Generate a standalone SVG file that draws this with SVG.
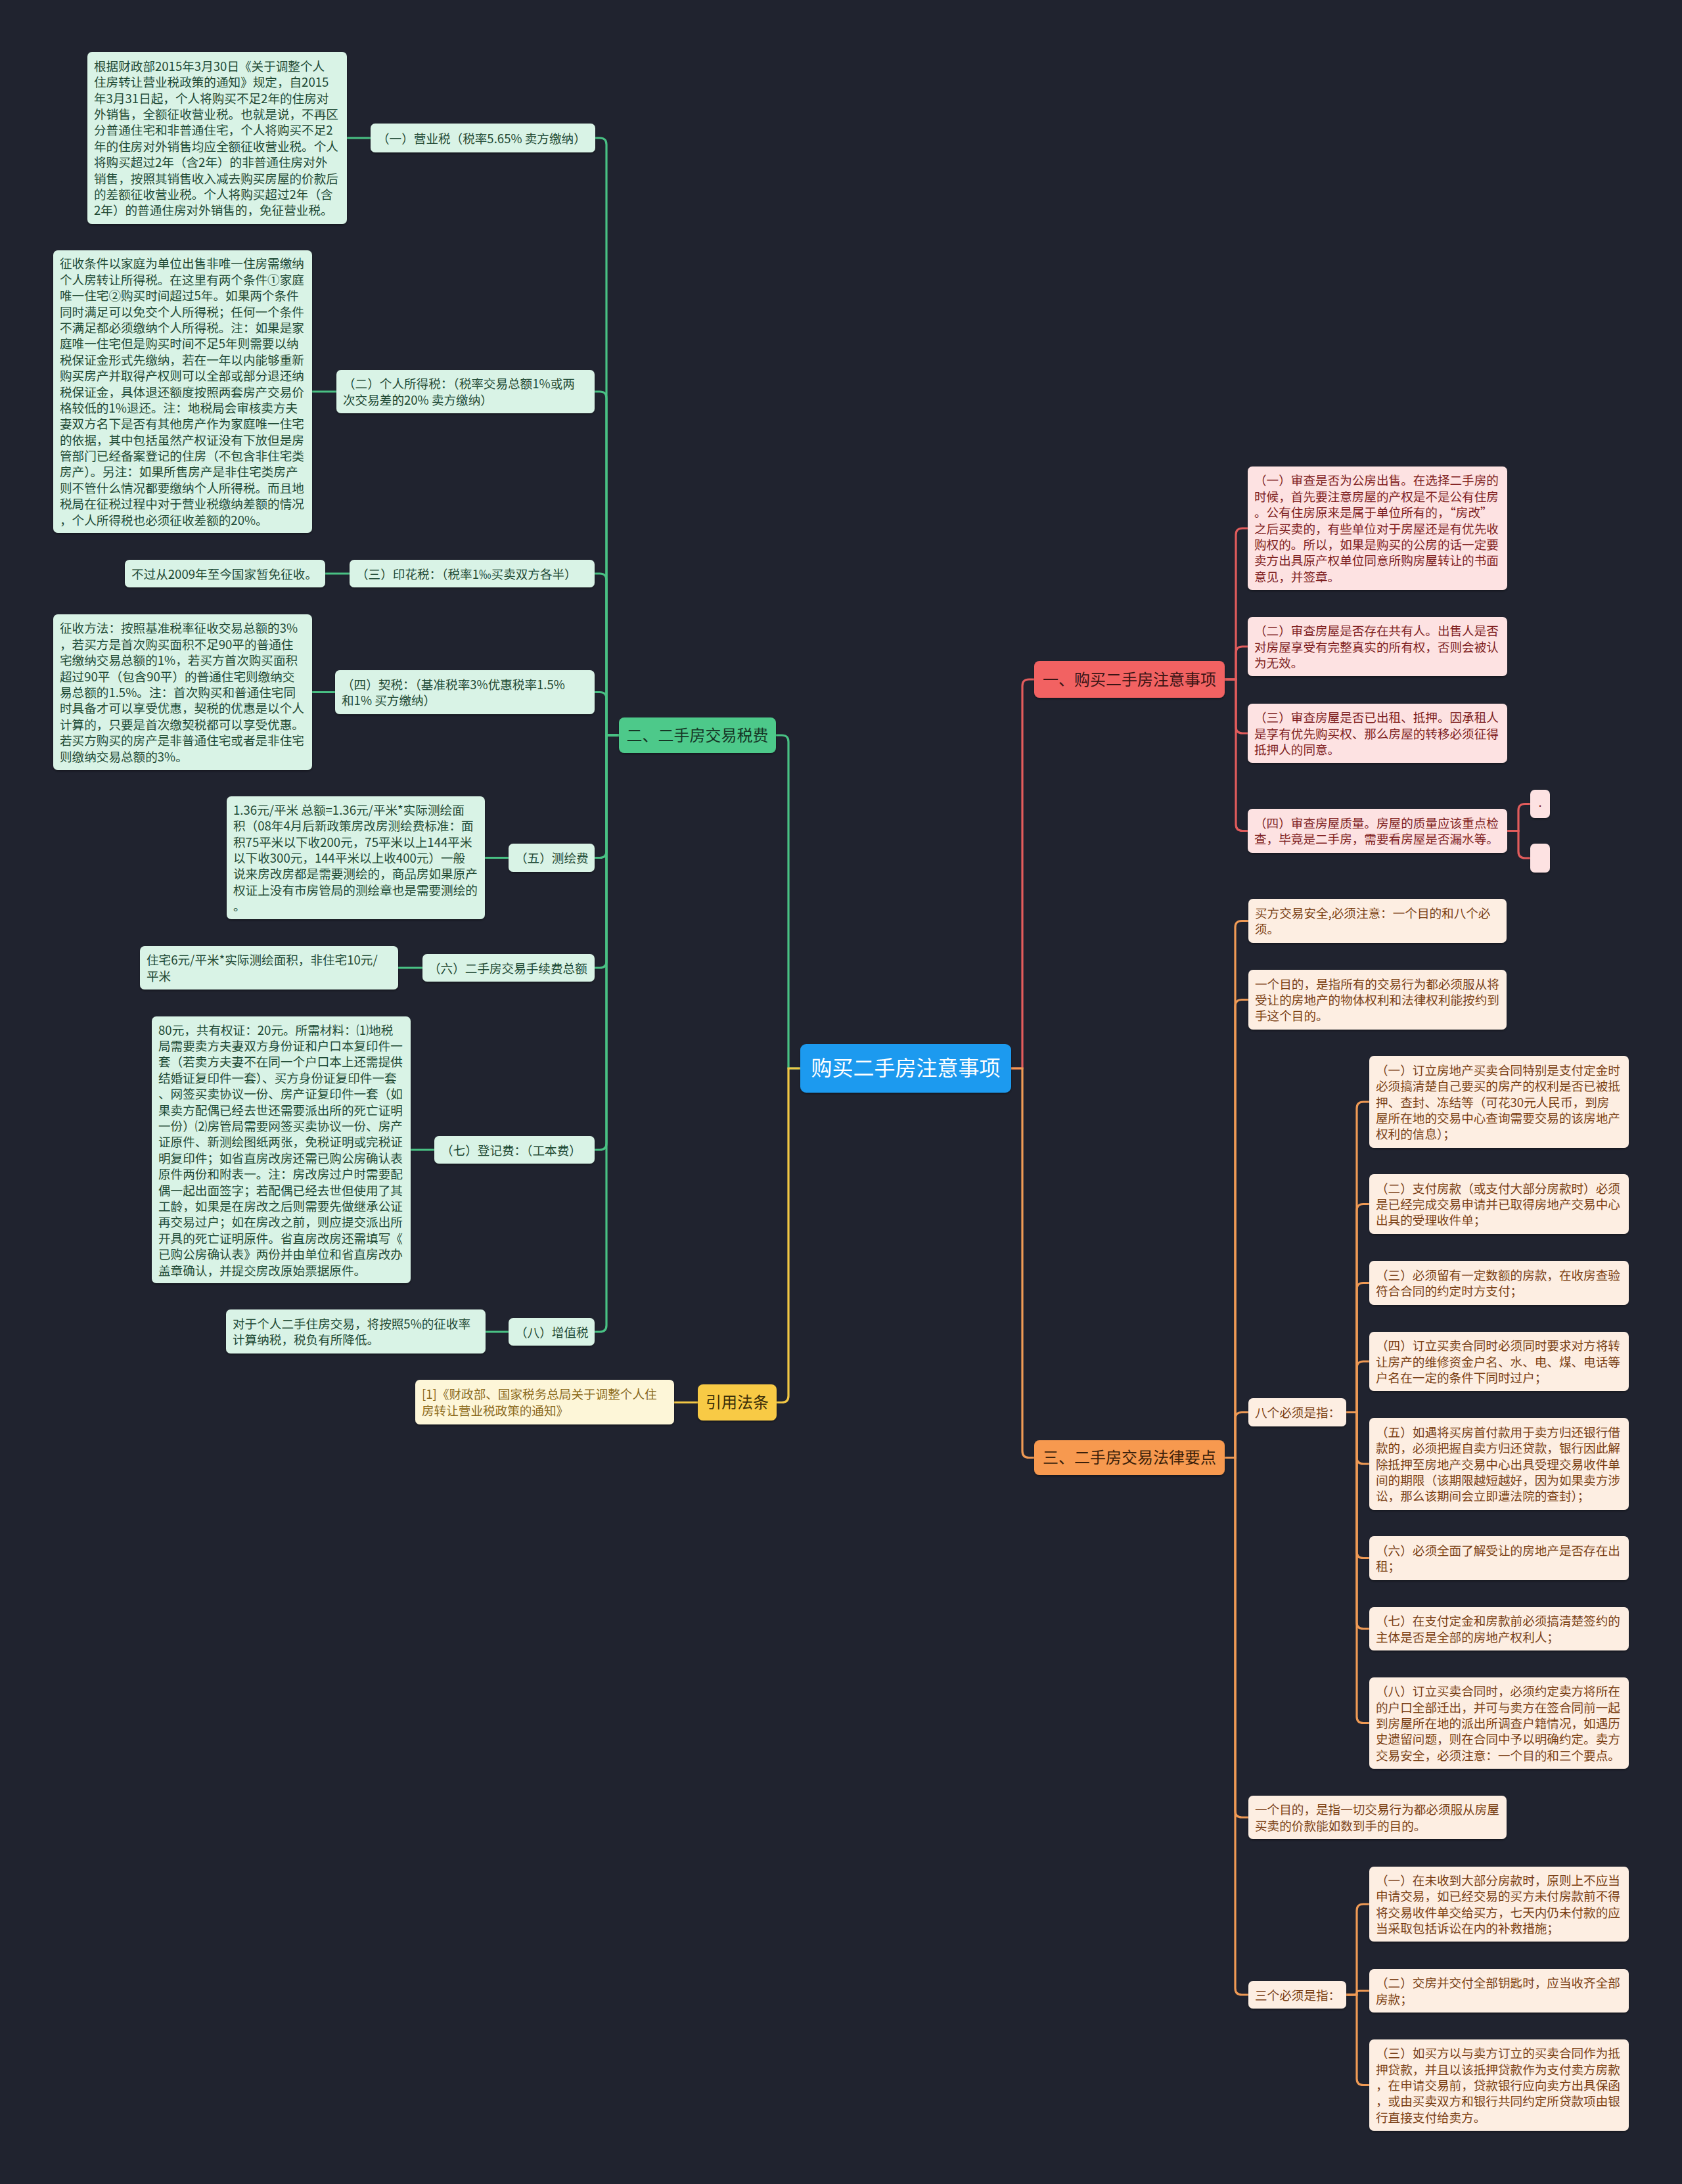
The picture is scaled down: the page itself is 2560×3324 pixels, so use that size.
<svg xmlns="http://www.w3.org/2000/svg" width="2560" height="3324" viewBox="0 0 2560 3324">
<defs>
<filter id="sh" x="-5%" y="-5%" width="110%" height="115%"><feDropShadow dx="0" dy="2" stdDeviation="1.5" flood-color="#000" flood-opacity="0.35"/></filter>
<style>
text{font-family:"Noto Sans CJK SC","Noto Sans",sans-serif;font-size:18.6px}
.gl{fill:#d9f3e6;filter:url(#sh)}
.gt{fill:#1f4a35}
.rl{fill:#fde2e2;filter:url(#sh)}
.rt{fill:#7f1f1f}
.ol{fill:#fdeee2;filter:url(#sh)}
.ot{fill:#7a3f14}
.yl{fill:#fdf6d8;filter:url(#sh)}
.yt{fill:#8b6a1b}
.main{font-size:24px;text-anchor:middle}
.c{fill:none;stroke-width:3.2;stroke-linecap:round}
.cg{stroke:#49c184}.cr{stroke:#e25c5c}.co{stroke:#ef9a55}.cy{stroke:#f2c744}
</style>
</defs>
<rect x="0" y="0" width="2560" height="3324" fill="#20232f"/>

<g id="connectors">
<!-- center to main -->
<path class="c cg" d="M1218,1626 H1200 V1129 Q1200,1119 1190,1119 H1181"/>
<path class="c cy" d="M1218,1626 H1200 V2124.5 Q1200,2134.5 1190,2134.5 H1182"/>
<path class="c cr" d="M1539,1626 H1556 V1044 Q1556,1034 1566,1034 H1574"/>
<path class="c co" d="M1539,1626 H1556 V2208.5 Q1556,2218.5 1566,2218.5 H1574"/>
<!-- green main to labels -->
<path class="c cg" d="M942,1119 H923 V220 Q923,210 913,210 H906"/>
<path class="c cg" d="M942,1119 H923 V606 Q923,596 913,596 H905"/>
<path class="c cg" d="M942,1119 H923 V883 Q923,873 913,873 H905"/>
<path class="c cg" d="M942,1119 H923 V1063.5 Q923,1053.5 913,1053.5 H905"/>
<path class="c cg" d="M942,1119 H923 V1295.5 Q923,1305.5 913,1305.5 H905"/>
<path class="c cg" d="M942,1119 H923 V1463 Q923,1473 913,1473 H905"/>
<path class="c cg" d="M942,1119 H923 V1740 Q923,1750 913,1750 H905"/>
<path class="c cg" d="M942,1119 H923 V2017 Q923,2027 913,2027 H905"/>
<!-- green labels to leaves -->
<path class="c cg" d="M528,210 H564"/>
<path class="c cg" d="M475,596 H512"/>
<path class="c cg" d="M495,873 H532"/>
<path class="c cg" d="M475,1053.5 H510"/>
<path class="c cg" d="M738,1305.5 H774"/>
<path class="c cg" d="M606,1473 H643"/>
<path class="c cg" d="M625,1750 H661"/>
<path class="c cg" d="M739,2027 H774"/>
<!-- yellow -->
<path class="c cy" d="M1062,2134.5 H1026"/>
<!-- red -->
<path class="c cr" d="M1864,1034 H1881 V814 Q1881,804 1891,804 H1899"/>
<path class="c cr" d="M1864,1034 H1881 V994 Q1881,984 1891,984 H1899"/>
<path class="c cr" d="M1864,1034 H1881 V1106 Q1881,1116 1891,1116 H1899"/>
<path class="c cr" d="M1864,1034 H1881 V1254.5 Q1881,1264.5 1891,1264.5 H1899"/>
<path class="c cr" d="M2294,1264.5 H2311 V1233.5 Q2311,1223.5 2321,1223.5 H2329"/>
<path class="c cr" d="M2294,1264.5 H2311 V1296 Q2311,1306 2321,1306 H2329"/>
<!-- orange -->
<path class="c co" d="M1864,2218.5 H1880 V1411.5 Q1880,1401.5 1890,1401.5 H1900"/>
<path class="c co" d="M1864,2218.5 H1880 V1531.5 Q1880,1521.5 1890,1521.5 H1900"/>
<path class="c co" d="M1864,2218.5 H1880 V2159.5 Q1880,2149.5 1890,2149.5 H1900"/>
<path class="c co" d="M1864,2218.5 H1880 V2756 Q1880,2766 1890,2766 H1900"/>
<path class="c co" d="M1864,2218.5 H1880 V3026 Q1880,3036 1890,3036 H1900"/>
<path class="c co" d="M2049,2149.5 H2065 V1687 Q2065,1677 2075,1677 H2084"/>
<path class="c co" d="M2049,2149.5 H2065 V1842.5 Q2065,1832.5 2075,1832.5 H2084"/>
<path class="c co" d="M2049,2149.5 H2065 V1962.5 Q2065,1952.5 2075,1952.5 H2084"/>
<path class="c co" d="M2049,2149.5 H2065 V2082 Q2065,2072 2075,2072 H2084"/>
<path class="c co" d="M2049,2149.5 H2065 V2218 Q2065,2228 2075,2228 H2084"/>
<path class="c co" d="M2049,2149.5 H2065 V2361.5 Q2065,2371.5 2075,2371.5 H2084"/>
<path class="c co" d="M2049,2149.5 H2065 V2469 Q2065,2479 2075,2479 H2084"/>
<path class="c co" d="M2049,2149.5 H2065 V2612.5 Q2065,2622.5 2075,2622.5 H2084"/>
<path class="c co" d="M2049,3036 H2065 V2908 Q2065,2898 2075,2898 H2084"/>
<path class="c co" d="M2049,3036 H2060 Q2065,3036 2065,3033 Q2065,3030 2070,3030 H2084"/>
<path class="c co" d="M2049,3036 H2065 V3163.5 Q2065,3173.5 2075,3173.5 H2084"/>
</g>

<g id="n-center">
<rect x="1218" y="1589" width="321" height="74" rx="9" fill="#1b9aef" filter="url(#sh)"/>
<text x="1378.5" y="1637" style="font-size:32px;text-anchor:middle;fill:#ffffff">购买二手房注意事项</text>
</g>

<g id="n-tax">
<rect x="942" y="1092" width="239" height="54" rx="8" fill="#4dc98a" filter="url(#sh)"/>
<text class="main" x="1061.5" y="1127.5" fill="#163726">二、二手房交易税费</text>
</g>

<g id="n-tax-1">
<rect class="gl" x="564" y="188" width="342" height="44" rx="7"/>
<text class="gt" x="574" y="217.5">（一）营业税（税率5.65% 卖方缴纳）</text>
</g>
<g id="n-tax-1-leaf">
<rect class="gl" x="133" y="79" width="395" height="262" rx="7"/>
<text class="gt" x="143" y="107.7">根据财政部2015年3月30日《关于调整个人<tspan x="143" dy="24.4">住房转让营业税政策的通知》规定，自2015</tspan><tspan x="143" dy="24.4">年3月31日起，个人将购买不足2年的住房对</tspan><tspan x="143" dy="24.4">外销售，全额征收营业税。也就是说，不再区</tspan><tspan x="143" dy="24.4">分普通住宅和非普通住宅，个人将购买不足2</tspan><tspan x="143" dy="24.4">年的住房对外销售均应全额征收营业税。个人</tspan><tspan x="143" dy="24.4">将购买超过2年（含2年）的非普通住房对外</tspan><tspan x="143" dy="24.4">销售，按照其销售收入减去购买房屋的价款后</tspan><tspan x="143" dy="24.4">的差额征收营业税。个人将购买超过2年（含</tspan><tspan x="143" dy="24.4">2年）的普通住房对外销售的，免征营业税。</tspan></text>
</g>

<g id="n-tax-2">
<rect class="gl" x="512" y="563" width="393" height="66" rx="7"/>
<text class="gt" x="522" y="591.3">（二）个人所得税：（税率交易总额1%或两<tspan x="522" dy="24.4">次交易差的20% 卖方缴纳）</tspan></text>
</g>
<g id="n-tax-2-leaf">
<rect class="gl" x="81" y="381" width="394" height="430" rx="7"/>
<text class="gt" x="91" y="408.3">征收条件以家庭为单位出售非唯一住房需缴纳<tspan x="91" dy="24.4">个人房转让所得税。在这里有两个条件①家庭</tspan><tspan x="91" dy="24.4">唯一住宅②购买时间超过5年。如果两个条件</tspan><tspan x="91" dy="24.4">同时满足可以免交个人所得税；任何一个条件</tspan><tspan x="91" dy="24.4">不满足都必须缴纳个人所得税。注：如果是家</tspan><tspan x="91" dy="24.4">庭唯一住宅但是购买时间不足5年则需要以纳</tspan><tspan x="91" dy="24.4">税保证金形式先缴纳，若在一年以内能够重新</tspan><tspan x="91" dy="24.4">购买房产并取得产权则可以全部或部分退还纳</tspan><tspan x="91" dy="24.4">税保证金，具体退还额度按照两套房产交易价</tspan><tspan x="91" dy="24.4">格较低的1%退还。注：地税局会审核卖方夫</tspan><tspan x="91" dy="24.4">妻双方名下是否有其他房产作为家庭唯一住宅</tspan><tspan x="91" dy="24.4">的依据，其中包括虽然产权证没有下放但是房</tspan><tspan x="91" dy="24.4">管部门已经备案登记的住房（不包含非住宅类</tspan><tspan x="91" dy="24.4">房产）。另注：如果所售房产是非住宅类房产</tspan><tspan x="91" dy="24.4">则不管什么情况都要缴纳个人所得税。而且地</tspan><tspan x="91" dy="24.4">税局在征税过程中对于营业税缴纳差额的情况</tspan><tspan x="91" dy="24.4">，个人所得税也必须征收差额的20%。</tspan></text>
</g>

<g id="n-tax-3">
<rect class="gl" x="532" y="852" width="373" height="42" rx="7"/>
<text class="gt" x="542" y="880.5">（三）印花税：（税率1‰买卖双方各半）</text>
</g>
<g id="n-tax-3-leaf">
<rect class="gl" x="190" y="852" width="305" height="42" rx="7"/>
<text class="gt" x="200" y="880.5">不过从2009年至今国家暂免征收。</text>
</g>

<g id="n-tax-4">
<rect class="gl" x="510" y="1020" width="395" height="67" rx="7"/>
<text class="gt" x="520" y="1048.8">（四）契税：（基准税率3%优惠税率1.5%<tspan x="520" dy="24.4">和1% 买方缴纳）</tspan></text>
</g>
<g id="n-tax-4-leaf">
<rect class="gl" x="81" y="935" width="394" height="237" rx="7"/>
<text class="gt" x="91" y="963.4">征收方法：按照基准税率征收交易总额的3%<tspan x="91" dy="24.4">，若买方是首次购买面积不足90平的普通住</tspan><tspan x="91" dy="24.4">宅缴纳交易总额的1%，若买方首次购买面积</tspan><tspan x="91" dy="24.4">超过90平（包含90平）的普通住宅则缴纳交</tspan><tspan x="91" dy="24.4">易总额的1.5%。注：首次购买和普通住宅同</tspan><tspan x="91" dy="24.4">时具备才可以享受优惠，契税的优惠是以个人</tspan><tspan x="91" dy="24.4">计算的，只要是首次缴契税都可以享受优惠。</tspan><tspan x="91" dy="24.4">若买方购买的房产是非普通住宅或者是非住宅</tspan><tspan x="91" dy="24.4">则缴纳交易总额的3%。</tspan></text>
</g>

<g id="n-tax-5">
<rect class="gl" x="774" y="1284" width="131" height="43" rx="7"/>
<text class="gt" x="784" y="1313">（五）测绘费</text>
</g>
<g id="n-tax-5-leaf">
<rect class="gl" x="345" y="1212" width="393" height="187" rx="7"/>
<text class="gt" x="355" y="1239.8">1.36元/平米 总额=1.36元/平米*实际测绘面<tspan x="355" dy="24.4">积（08年4月后新政策房改房测绘费标准：面</tspan><tspan x="355" dy="24.4">积75平米以下收200元，75平米以上144平米</tspan><tspan x="355" dy="24.4">以下收300元，144平米以上收400元）一般</tspan><tspan x="355" dy="24.4">说来房改房都是需要测绘的，商品房如果原产</tspan><tspan x="355" dy="24.4">权证上没有市房管局的测绘章也是需要测绘的</tspan><tspan x="355" dy="24.4">。</tspan></text>
</g>

<g id="n-tax-6">
<rect class="gl" x="643" y="1452" width="262" height="42" rx="7"/>
<text class="gt" x="652" y="1480.5">（六）二手房交易手续费总额</text>
</g>
<g id="n-tax-6-leaf">
<rect class="gl" x="213" y="1440" width="393" height="66" rx="7"/>
<text class="gt" x="223" y="1468.3">住宅6元/平米*实际测绘面积，非住宅10元/<tspan x="223" dy="24.4">平米</tspan></text>
</g>

<g id="n-tax-7">
<rect class="gl" x="661" y="1729" width="244" height="42" rx="7"/>
<text class="gt" x="671" y="1757.5">（七）登记费：（工本费）</text>
</g>
<g id="n-tax-7-leaf">
<rect class="gl" x="231" y="1547" width="394" height="406" rx="7"/>
<text class="gt" x="241" y="1574.5">80元，共有权证：20元。所需材料：⑴地税<tspan x="241" dy="24.4">局需要卖方夫妻双方身份证和户口本复印件一</tspan><tspan x="241" dy="24.4">套（若卖方夫妻不在同一个户口本上还需提供</tspan><tspan x="241" dy="24.4">结婚证复印件一套）、买方身份证复印件一套</tspan><tspan x="241" dy="24.4">、网签买卖协议一份、房产证复印件一套（如</tspan><tspan x="241" dy="24.4">果卖方配偶已经去世还需要派出所的死亡证明</tspan><tspan x="241" dy="24.4">一份）⑵房管局需要网签买卖协议一份、房产</tspan><tspan x="241" dy="24.4">证原件、新测绘图纸两张，免税证明或完税证</tspan><tspan x="241" dy="24.4">明复印件；如省直房改房还需已购公房确认表</tspan><tspan x="241" dy="24.4">原件两份和附表一。注：房改房过户时需要配</tspan><tspan x="241" dy="24.4">偶一起出面签字；若配偶已经去世但使用了其</tspan><tspan x="241" dy="24.4">工龄，如果是在房改之后则需要先做继承公证</tspan><tspan x="241" dy="24.4">再交易过户；如在房改之前，则应提交派出所</tspan><tspan x="241" dy="24.4">开具的死亡证明原件。省直房改房还需填写《</tspan><tspan x="241" dy="24.4">已购公房确认表》两份并由单位和省直房改办</tspan><tspan x="241" dy="24.4">盖章确认，并提交房改原始票据原件。</tspan></text>
</g>

<g id="n-tax-8">
<rect class="gl" x="774" y="2006" width="131" height="42" rx="7"/>
<text class="gt" x="784" y="2034.5">（八）增值税</text>
</g>
<g id="n-tax-8-leaf">
<rect class="gl" x="344" y="1993" width="395" height="67" rx="7"/>
<text class="gt" x="354" y="2021.8">对于个人二手住房交易，将按照5%的征收率<tspan x="354" dy="24.4">计算纳税，税负有所降低。</tspan></text>
</g>

<g id="n-law">
<rect x="1062" y="2107" width="120" height="55" rx="8" fill="#f8ca45" filter="url(#sh)"/>
<text class="main" x="1122" y="2143" fill="#3a2e08">引用法条</text>
</g>
<g id="n-law-leaf">
<rect class="yl" x="632" y="2100" width="394" height="68" rx="7"/>
<text class="yt" x="642" y="2129.3">[1]《财政部、国家税务总局关于调整个人住<tspan x="642" dy="24.4">房转让营业税政策的通知》</tspan></text>
</g>

<g id="n-buy">
<rect x="1574" y="1006" width="290" height="56" rx="8" fill="#f26262" filter="url(#sh)"/>
<text class="main" x="1719" y="1042.5" fill="#3a1414">一、购买二手房注意事项</text>
</g>
<g id="n-buy-1">
<rect class="rl" x="1899" y="710" width="395" height="188" rx="7"/>
<text class="rt" x="1909" y="738.3">（一）审查是否为公房出售。在选择二手房的<tspan x="1909" dy="24.4">时候，首先要注意房屋的产权是不是公有住房</tspan><tspan x="1909" dy="24.4">。公有住房原来是属于单位所有的，“房改”</tspan><tspan x="1909" dy="24.4">之后买卖的，有些单位对于房屋还是有优先收</tspan><tspan x="1909" dy="24.4">购权的。所以，如果是购买的公房的话一定要</tspan><tspan x="1909" dy="24.4">卖方出具原产权单位同意所购房屋转让的书面</tspan><tspan x="1909" dy="24.4">意见，并签章。</tspan></text>
</g>
<g id="n-buy-2">
<rect class="rl" x="1899" y="939" width="395" height="90" rx="7"/>
<text class="rt" x="1909" y="967.1">（二）审查房屋是否存在共有人。出售人是否<tspan x="1909" dy="24.4">对房屋享受有完整真实的所有权，否则会被认</tspan><tspan x="1909" dy="24.4">为无效。</tspan></text>
</g>
<g id="n-buy-3">
<rect class="rl" x="1899" y="1071" width="395" height="90" rx="7"/>
<text class="rt" x="1909" y="1099.1">（三）审查房屋是否已出租、抵押。因承租人<tspan x="1909" dy="24.4">是享有优先购买权、那么房屋的转移必须征得</tspan><tspan x="1909" dy="24.4">抵押人的同意。</tspan></text>
</g>
<g id="n-buy-4">
<rect class="rl" x="1899" y="1231" width="395" height="67" rx="7"/>
<text class="rt" x="1909" y="1259.8">（四）审查房屋质量。房屋的质量应该重点检<tspan x="1909" dy="24.4">查，毕竟是二手房，需要看房屋是否漏水等。</tspan></text>
</g>
<g id="n-buy-4-a">
<rect class="rl" x="2329" y="1202" width="30" height="43" rx="7"/>
<text class="rt" x="2344" y="1228" style="text-anchor:middle">.</text>
</g>
<g id="n-buy-4-b">
<rect class="rl" x="2329" y="1284" width="30" height="44" rx="7"/>
</g>

<g id="n-legal">
<rect x="1574" y="2192" width="290" height="53" rx="8" fill="#f7994f" filter="url(#sh)"/>
<text class="main" x="1719" y="2227" fill="#3a1f0a">三、二手房交易法律要点</text>
</g>
<g id="n-legal-1">
<rect class="ol" x="1900" y="1368" width="393" height="67" rx="7"/>
<text class="ot" x="1910" y="1396.8">买方交易安全,必须注意：一个目的和八个必<tspan x="1910" dy="24.4">须。</tspan></text>
</g>
<g id="n-legal-2">
<rect class="ol" x="1900" y="1476" width="393" height="91" rx="7"/>
<text class="ot" x="1910" y="1504.6">一个目的，是指所有的交易行为都必须服从将<tspan x="1910" dy="24.4">受让的房地产的物体权利和法律权利能按约到</tspan><tspan x="1910" dy="24.4">手这个目的。</tspan></text>
</g>
<g id="n-legal-8">
<rect class="ol" x="1900" y="2128" width="149" height="43" rx="7"/>
<text class="ot" x="1910" y="2157">八个必须是指：</text>
</g>
<g id="n-legal-8-1">
<rect class="ol" x="2084" y="1607" width="395" height="140" rx="7"/>
<text class="ot" x="2094" y="1635.7">（一）订立房地产买卖合同特别是支付定金时<tspan x="2094" dy="24.4">必须搞清楚自己要买的房产的权利是否已被抵</tspan><tspan x="2094" dy="24.4">押、查封、冻结等（可花30元人民币，到房</tspan><tspan x="2094" dy="24.4">屋所在地的交易中心查询需要交易的该房地产</tspan><tspan x="2094" dy="24.4">权利的信息）；</tspan></text>
</g>
<g id="n-legal-8-2">
<rect class="ol" x="2084" y="1787" width="395" height="91" rx="7"/>
<text class="ot" x="2094" y="1815.6">（二）支付房款（或支付大部分房款时）必须<tspan x="2094" dy="24.4">是已经完成交易申请并已取得房地产交易中心</tspan><tspan x="2094" dy="24.4">出具的受理收件单；</tspan></text>
</g>
<g id="n-legal-8-3">
<rect class="ol" x="2084" y="1919" width="395" height="67" rx="7"/>
<text class="ot" x="2094" y="1947.8">（三）必须留有一定数额的房款，在收房查验<tspan x="2094" dy="24.4">符合合同的约定时方支付；</tspan></text>
</g>
<g id="n-legal-8-4">
<rect class="ol" x="2084" y="2027" width="395" height="90" rx="7"/>
<text class="ot" x="2094" y="2055.1">（四）订立买卖合同时必须同时要求对方将转<tspan x="2094" dy="24.4">让房产的维修资金户名、水、电、煤、电话等</tspan><tspan x="2094" dy="24.4">户名在一定的条件下同时过户；</tspan></text>
</g>
<g id="n-legal-8-5">
<rect class="ol" x="2084" y="2158" width="395" height="140" rx="7"/>
<text class="ot" x="2094" y="2186.7">（五）如遇将买房首付款用于卖方归还银行借<tspan x="2094" dy="24.4">款的，必须把握自卖方归还贷款，银行因此解</tspan><tspan x="2094" dy="24.4">除抵押至房地产交易中心出具受理交易收件单</tspan><tspan x="2094" dy="24.4">间的期限（该期限越短越好，因为如果卖方涉</tspan><tspan x="2094" dy="24.4">讼，那么该期间会立即遭法院的查封）；</tspan></text>
</g>
<g id="n-legal-8-6">
<rect class="ol" x="2084" y="2338" width="395" height="67" rx="7"/>
<text class="ot" x="2094" y="2366.8">（六）必须全面了解受让的房地产是否存在出<tspan x="2094" dy="24.4">租；</tspan></text>
</g>
<g id="n-legal-8-7">
<rect class="ol" x="2084" y="2446" width="395" height="66" rx="7"/>
<text class="ot" x="2094" y="2474.3">（七）在支付定金和房款前必须搞清楚签约的<tspan x="2094" dy="24.4">主体是否是全部的房地产权利人；</tspan></text>
</g>
<g id="n-legal-8-8">
<rect class="ol" x="2084" y="2553" width="395" height="139" rx="7"/>
<text class="ot" x="2094" y="2581.2">（八）订立买卖合同时，必须约定卖方将所在<tspan x="2094" dy="24.4">的户口全部迁出，并可与卖方在签合同前一起</tspan><tspan x="2094" dy="24.4">到房屋所在地的派出所调查户籍情况，如遇历</tspan><tspan x="2094" dy="24.4">史遗留问题，则在合同中予以明确约定。卖方</tspan><tspan x="2094" dy="24.4">交易安全，必须注意：一个目的和三个要点。</tspan></text>
</g>
<g id="n-legal-goal">
<rect class="ol" x="1900" y="2733" width="393" height="66" rx="7"/>
<text class="ot" x="1910" y="2761.3">一个目的，是指一切交易行为都必须服从房屋<tspan x="1910" dy="24.4">买卖的价款能如数到手的目的。</tspan></text>
</g>
<g id="n-legal-3">
<rect class="ol" x="1900" y="3015" width="149" height="42" rx="7"/>
<text class="ot" x="1910" y="3043.5">三个必须是指：</text>
</g>
<g id="n-legal-3-1">
<rect class="ol" x="2084" y="2841" width="395" height="114" rx="7"/>
<text class="ot" x="2094" y="2868.9">（一）在未收到大部分房款时，原则上不应当<tspan x="2094" dy="24.4">申请交易，如已经交易的买方未付房款前不得</tspan><tspan x="2094" dy="24.4">将交易收件单交给买方，七天内仍未付款的应</tspan><tspan x="2094" dy="24.4">当采取包括诉讼在内的补救措施；</tspan></text>
</g>
<g id="n-legal-3-2">
<rect class="ol" x="2084" y="2997" width="395" height="66" rx="7"/>
<text class="ot" x="2094" y="3025.3">（二）交房并交付全部钥匙时，应当收齐全部<tspan x="2094" dy="24.4">房款；</tspan></text>
</g>
<g id="n-legal-3-3">
<rect class="ol" x="2084" y="3104" width="395" height="139" rx="7"/>
<text class="ot" x="2094" y="3132.2">（三）如买方以与卖方订立的买卖合同作为抵<tspan x="2094" dy="24.4">押贷款，并且以该抵押贷款作为支付卖方房款</tspan><tspan x="2094" dy="24.4">，在申请交易前，贷款银行应向卖方出具保函</tspan><tspan x="2094" dy="24.4">，或由买卖双方和银行共同约定所贷款项由银</tspan><tspan x="2094" dy="24.4">行直接支付给卖方。</tspan></text>
</g>
</svg>
